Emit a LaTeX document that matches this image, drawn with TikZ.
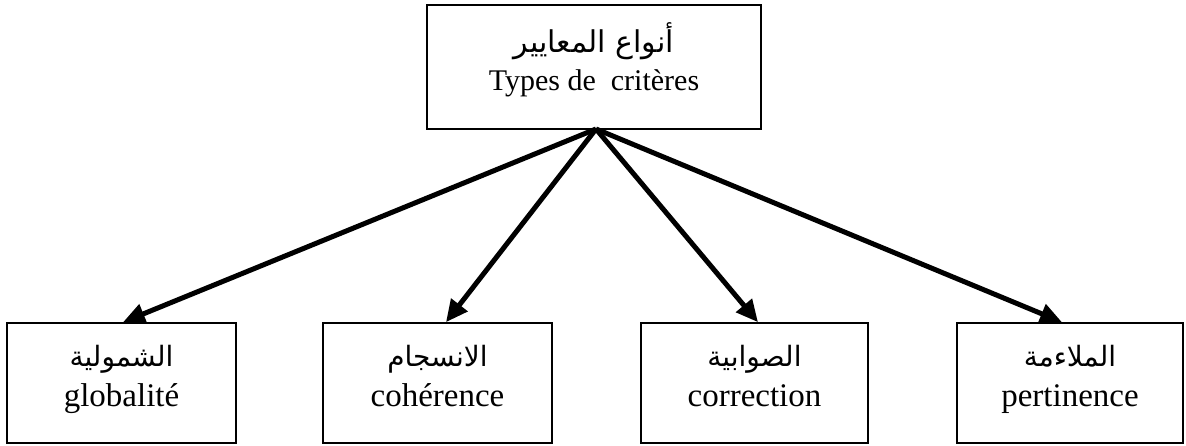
\documentclass[tikz,border=0pt]{standalone}
\usepackage{fontspec}
\setmainfont{Liberation Serif}
\newfontfamily\arabicfont[Script=Arabic]{DejaVu Sans}
\TeXXeTstate=1
\usetikzlibrary{arrows.meta}
\begin{document}
\begin{tikzpicture}[x=1pt,y=-1pt,
  box/.style={draw=black,line width=1.6pt,rectangle,inner sep=0pt},
  artop/.style={font=\fontsize{30}{34}\selectfont\arabicfont,inner sep=0pt,anchor=base},
  ar/.style={font=\fontsize{28}{32}\selectfont\arabicfont,inner sep=0pt,anchor=base},
  lat/.style={font=\fontsize{33}{36}\selectfont,inner sep=0pt,anchor=base},
  lattop/.style={font=\fontsize{30}{32}\selectfont,inner sep=0pt,anchor=base},
  conn/.style={line width=5pt,-{Triangle[length=22pt,width=20pt]}}]
\useasboundingbox (0,0) rectangle (1186,446);
\node[box,minimum width=334pt,minimum height=124pt] (top) at (594,67) {};
\node[box,minimum width=229pt,minimum height=120pt] (b1) at (121.5,383) {};
\node[box,minimum width=229pt,minimum height=120pt] (b2) at (437.5,383) {};
\node[box,minimum width=227pt,minimum height=120pt] (b3) at (754.5,383) {};
\node[box,minimum width=226pt,minimum height=120pt] (b4) at (1070,383) {};
\node[artop] (ta) at (594,53) {\beginR أنواع المعايير\endR};
\node[lattop] (tl) at (594,91) {Types de\ \ critères};
\node[ar] (a1) at (121.5,366) {\beginR الشمولية\endR};
\node[lat] (l1) at (121.5,406) {globalité};
\node[ar] (a2) at (437.5,366) {\beginR الانسجام\endR};
\node[lat] (l2) at (437.5,406) {cohérence};
\node[ar] (a3) at (754.5,366) {\beginR الصوابية\endR};
\node[lat] (l3) at (754.5,406) {correction};
\node[ar] (a4) at (1070,366) {\beginR الملاءمة\endR};
\node[lat] (l4) at (1070,406) {pertinence};
\coordinate (o) at (596,129);
\draw[conn] (o) -- ([xshift=1.5pt]b1.north);
\draw[conn] (o) -- ([xshift=8.5pt]b2.north);
\draw[conn] (o) -- ([xshift=3.5pt]b3.north);
\draw[conn] (o) -- ([xshift=-8pt]b4.north);
\end{tikzpicture}
\end{document}
